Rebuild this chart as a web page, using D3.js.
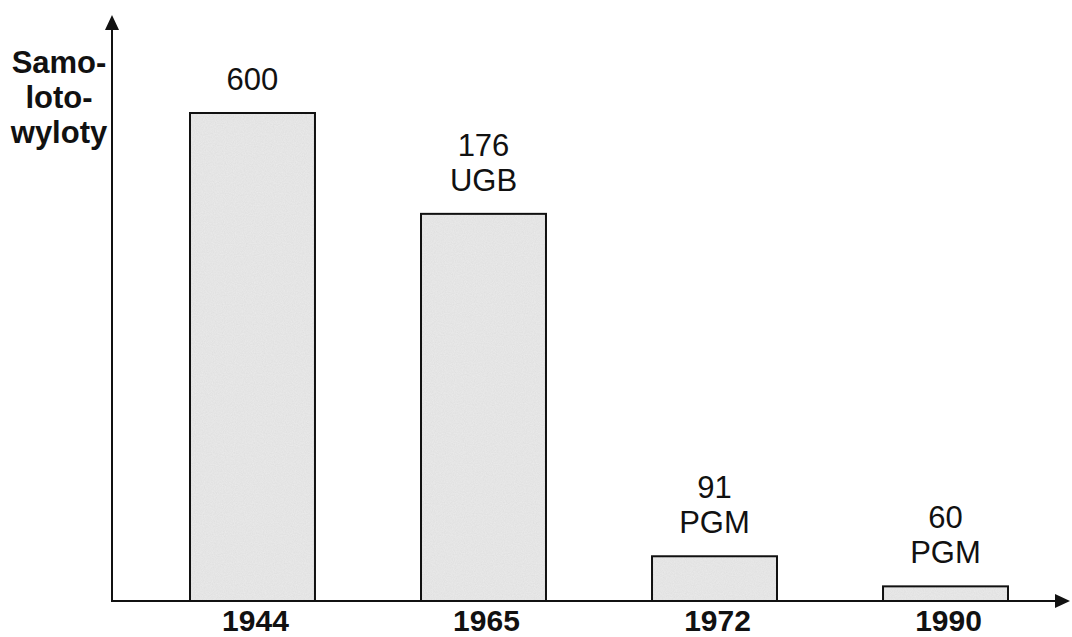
<!DOCTYPE html>
<html>
<head>
<meta charset="utf-8">
<script src="https://cdn.jsdelivr.net/npm/d3@7"></script>
<style>
  html, body { margin: 0; padding: 0; background: #fff; }
  svg { display: block; }
  text { font-family: "Liberation Sans", Arial, sans-serif; fill: #111; }
</style>
</head>
<body>
<svg id="chart" width="1072" height="637"></svg>
<script>
// ---- data ----
const years = ["1944", "1965", "1972", "1990"];
// bar heights as drawn (scaled so the 1944 bar = 600)
const barHeights = [600, 476, 55, 18];
const valueLabels = ["600", "176", "91", "60"];
const noteLabels = ["", "UGB", "PGM", "PGM"];
const yTitleLines = ["Samo-", "loto-", "wyloty"];

// ---- layout ----
const svg = d3.select("#chart");
const axisX = 112, axisY = 601, topY = 15, rightX = 1070;

const x = d3.scaleBand().domain(years).range([190, 1008]).paddingInner(0.459).paddingOuter(0);
const y = d3.scaleLinear().domain([0, 600]).range([axisY, 113]);

// noise filter for bar fill
const defs = svg.append("defs");
const f = defs.append("filter").attr("id", "grain").attr("x", 0).attr("y", 0).attr("width", 1).attr("height", 1);
f.append("feTurbulence").attr("type", "fractalNoise").attr("baseFrequency", 0.9).attr("numOctaves", 2).attr("seed", 3).attr("result", "n");
f.append("feColorMatrix").attr("in", "n").attr("type", "matrix")
  .attr("values", "0 0 0 0 0.55  0 0 0 0 0.55  0 0 0 0 0.55  0 0 0 0.35 0").attr("result", "g");
f.append("feComposite").attr("in", "g").attr("in2", "SourceGraphic").attr("operator", "in").attr("result", "gc");
f.append("feMerge").selectAll("feMergeNode").data(["SourceGraphic", "gc"]).join("feMergeNode").attr("in", d => d);

const data = years.map((yr, i) => ({ yr, h: barHeights[i], v: valueLabels[i], note: noteLabels[i] }));

// bars
svg.append("g").selectAll("rect").data(data).join("rect")
  .attr("x", d => x(d.yr))
  .attr("y", d => y(d.h))
  .attr("width", x.bandwidth())
  .attr("height", d => y(0) - y(d.h))
  .attr("fill", "#ebebeb")
  .attr("filter", "url(#grain)");
svg.append("g").selectAll("rect").data(data).join("rect")
  .attr("x", d => x(d.yr))
  .attr("y", d => y(d.h))
  .attr("width", x.bandwidth())
  .attr("height", d => y(0) - y(d.h))
  .attr("fill", "none")
  .attr("stroke", "#111")
  .attr("stroke-width", 2);

// axes
svg.append("line").attr("x1", axisX).attr("y1", axisY + 1).attr("x2", axisX).attr("y2", topY + 10)
  .attr("stroke", "#111").attr("stroke-width", 2);
svg.append("path").attr("d", `M${axisX},${topY} L${axisX - 7},${topY + 15} L${axisX + 7},${topY + 15} Z`).attr("fill", "#111");
svg.append("line").attr("x1", axisX - 1).attr("y1", axisY).attr("x2", rightX - 10).attr("y2", axisY)
  .attr("stroke", "#111").attr("stroke-width", 2);
svg.append("path").attr("d", `M${rightX},${axisY} L${rightX - 15},${axisY - 7} L${rightX - 15},${axisY + 7} Z`).attr("fill", "#111");

// year labels
svg.append("g").selectAll("text").data(data).join("text")
  .attr("x", d => x(d.yr) + x.bandwidth() / 2 + 3)
  .attr("y", 631)
  .attr("text-anchor", "middle")
  .attr("font-size", 30)
  .attr("font-weight", "bold")
  .text(d => d.yr);

// value labels above bars
const lab = svg.append("g").selectAll("g").data(data).join("g");
lab.each(function (d) {
  const g = d3.select(this);
  const cx = x(d.yr) + x.bandwidth() / 2;
  const lines = d.note ? [d.v, d.note] : [d.v];
  const baseBottom = y(d.h) - 23;
  lines.forEach((t, i) => {
    g.append("text")
      .attr("x", cx)
      .attr("y", baseBottom - (lines.length - 1 - i) * 35)
      .attr("text-anchor", "middle")
      .attr("font-size", 31)
      .text(t);
  });
});

// y-axis title
svg.append("g").selectAll("text").data(yTitleLines).join("text")
  .attr("x", 59)
  .attr("y", (d, i) => 73 + i * 35)
  .attr("text-anchor", "middle")
  .attr("font-size", 31)
  .attr("font-weight", "bold")
  .text(d => d);
</script>
</body>
</html>
